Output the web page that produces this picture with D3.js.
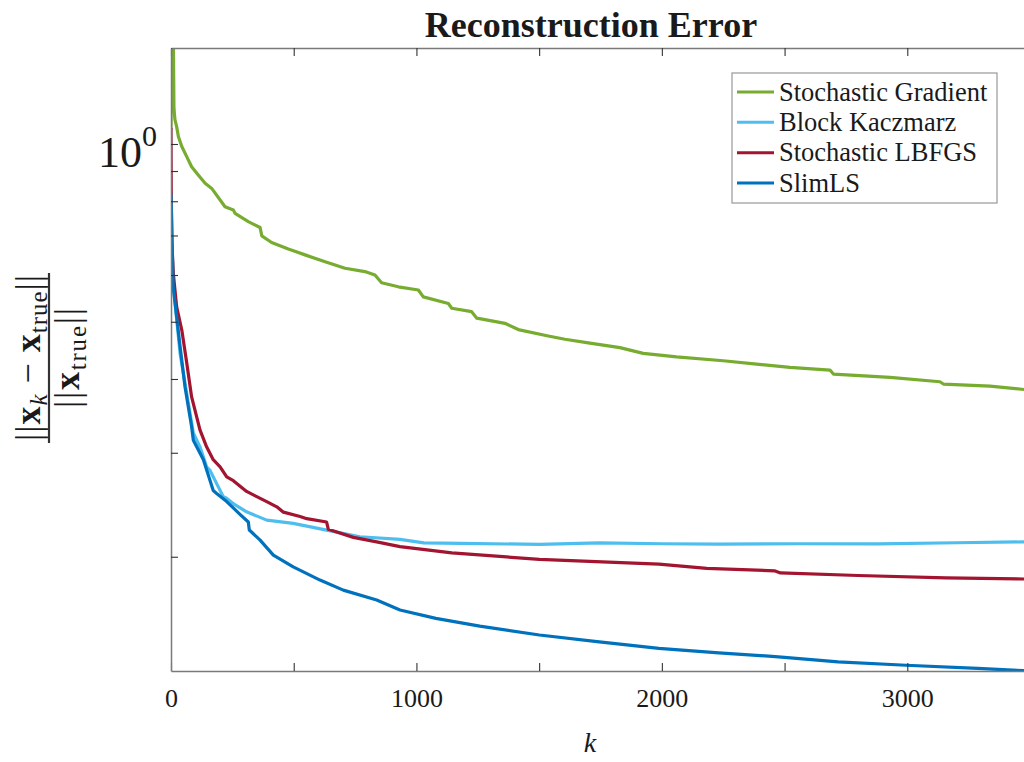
<!DOCTYPE html>
<html>
<head>
<meta charset="utf-8">
<script src="https://cdn.jsdelivr.net/npm/d3@7"></script>
<style>
  body { margin: 0; background: #fff; }
  svg { display: block; }
  text { font-family: "Liberation Serif", "Times New Roman", serif; fill: #1a1a1a; }
</style>
</head>
<body>
<svg id="chart" width="1024" height="762"></svg>
<script>
// Relative reconstruction error per iteration k for four solvers.
const seriesNames = ["Stochastic Gradient", "Block Kaczmarz", "Stochastic LBFGS", "SlimLS"];

const stochasticGradient = [
  [0, 1.06], [2, 1.5], [4, 1.22], [6, 1.6], [8, 1.3], [10, 1.45], [12, 1.15], [16, 1.10],
  [23, 1.07], [30, 1.03], [44, 0.99], [64, 0.952], [84, 0.915], [111, 0.886], [139, 0.858],
  [166, 0.841], [220, 0.783], [254, 0.773], [261, 0.763], [315, 0.739], [363, 0.722],
  [370, 0.699], [410, 0.681], [478, 0.664], [546, 0.649], [628, 0.632], [709, 0.616],
  [790, 0.608], [831, 0.600], [858, 0.582], [926, 0.573], [1008, 0.566], [1028, 0.551],
  [1130, 0.537], [1144, 0.527], [1225, 0.520], [1246, 0.507], [1361, 0.497], [1415, 0.485],
  [1537, 0.473], [1605, 0.467], [1707, 0.460], [1829, 0.452], [1924, 0.442], [2060, 0.436],
  [2250, 0.4295], [2386, 0.424], [2522, 0.4186], [2685, 0.4142], [2699, 0.4078],
  [2930, 0.4025], [3133, 0.3957], [3147, 0.3922], [3337, 0.3891], [3500, 0.383]
];

const blockKaczmarz = [
  [0, 0.826], [3, 0.612], [37, 0.442], [64, 0.378], [91, 0.324], [118, 0.307], [145, 0.284],
  [159, 0.280], [186, 0.266], [213, 0.2527], [225, 0.2515], [260, 0.245], [308, 0.2383],
  [390, 0.2307], [498, 0.2278], [634, 0.2219], [770, 0.2162], [933, 0.214], [1030, 0.2111],
  [1178, 0.2107], [1501, 0.2099], [1745, 0.2111], [2000, 0.2104], [2232, 0.2101],
  [2556, 0.2104], [2881, 0.2103], [3200, 0.2112], [3500, 0.212]
];

const stochasticLBFGS = [
  [0, 1.064], [1, 0.84], [3, 0.68], [10, 0.60], [23, 0.53], [44, 0.484], [64, 0.426],
  [84, 0.373], [118, 0.328], [145, 0.307], [172, 0.292], [200, 0.284], [227, 0.273],
  [254, 0.269], [308, 0.258], [390, 0.248], [431, 0.243], [458, 0.238], [526, 0.234],
  [553, 0.232], [634, 0.229], [641, 0.2226], [743, 0.2157], [838, 0.212], [933, 0.208],
  [1144, 0.2031], [1501, 0.1979], [1988, 0.1943], [2183, 0.1911], [2459, 0.1893],
  [2483, 0.1878], [2800, 0.1859], [3157, 0.1842], [3500, 0.1833]
];

const slimLS = [
  [0, 0.826], [9, 0.573], [37, 0.454], [57, 0.388], [84, 0.332], [91, 0.315], [132, 0.292],
  [172, 0.259], [186, 0.256], [227, 0.248], [281, 0.236], [315, 0.229], [319, 0.222],
  [363, 0.2134], [417, 0.2013], [498, 0.1923], [607, 0.1826], [702, 0.1756], [838, 0.1689],
  [933, 0.1625], [1079, 0.1573], [1258, 0.1526], [1501, 0.1474], [1745, 0.1435],
  [1988, 0.1399], [2232, 0.1375], [2475, 0.1354], [2718, 0.1327], [2995, 0.1310],
  [3287, 0.1294], [3500, 0.1281]
];

const xTicks = [0, 500, 1000, 1500, 2000, 2500, 3000, 3500];
const xTickLabels = ["0", "", "1000", "", "2000", "", "3000", ""];
const yTicks = [0.2, 0.3, 0.4, 0.5, 0.6, 0.7, 0.8, 0.9, 1];

const seriesData = [stochasticGradient, blockKaczmarz, stochasticLBFGS, slimLS];
const seriesColors = ["#77AC30", "#4DBEEE", "#A2142F", "#0072BD"];

const svg = d3.select("#chart");
const margin = { left: 171, top: 48, right: 1030, bottom: 671 };

const x = d3.scaleLinear().domain([0, 3500]).range([margin.left, margin.right]);
const y = d3.scaleLog().domain([0.1281, 1.454]).range([margin.bottom, margin.top]);

svg.append("rect").attr("width", 1024).attr("height", 762).attr("fill", "#fff");

svg.append("defs").append("clipPath").attr("id", "plot-clip")
  .append("rect")
  .attr("x", margin.left).attr("y", margin.top)
  .attr("width", margin.right - margin.left).attr("height", margin.bottom - margin.top);

// Data lines, in legend order so SlimLS is drawn on top
const line = d3.line().x(d => x(d[0])).y(d => y(d[1]));
const lines = svg.append("g").attr("clip-path", "url(#plot-clip)");
seriesData.forEach((data, i) => {
  lines.append("path")
    .datum(data)
    .attr("d", line)
    .attr("fill", "none")
    .attr("stroke", seriesColors[i])
    .attr("stroke-width", 3.2)
    .attr("stroke-linejoin", "round");
});

function styleAxis(g) {
  g.select(".domain").attr("stroke", "#7a7a7a").attr("stroke-width", 1.5);
  g.selectAll(".tick line").attr("stroke", "#333").attr("stroke-width", 1.1);
}

// Bottom axis with inward ticks
const xAxis = svg.append("g")
  .attr("transform", `translate(0,${margin.bottom})`)
  .call(d3.axisBottom(x).tickValues(xTicks)
    .tickFormat((d, i) => xTickLabels[i])
    .tickSizeInner(-8).tickSizeOuter(0).tickPadding(18))
  .call(styleAxis);
xAxis.selectAll(".tick text")
  .attr("font-size", 26)
  .attr("font-family", "Liberation Serif, serif")
  .attr("fill", "#1a1a1a");

// Top box edge
svg.append("g")
  .attr("transform", `translate(0,${margin.top})`)
  .call(d3.axisTop(x).tickValues(xTicks).tickFormat("")
    .tickSizeInner(-8).tickSizeOuter(0))
  .call(styleAxis);

// Left log axis with minor ticks
svg.append("g")
  .attr("transform", `translate(${margin.left},0)`)
  .call(d3.axisLeft(y).tickValues(yTicks).tickFormat("")
    .tickSizeInner(-7).tickSizeOuter(0))
  .call(styleAxis);

// 10^0 label
const yLab = svg.append("text")
  .attr("x", 157).attr("y", y(1) + 23)
  .attr("text-anchor", "end")
  .attr("font-size", 44);
yLab.append("tspan").text("10");
yLab.append("tspan").attr("font-size", 30).attr("dy", -21).text("0");

// Title
svg.append("text")
  .attr("x", 591).attr("y", 37)
  .attr("text-anchor", "middle")
  .attr("font-size", 36).attr("font-weight", "bold")
  .text("Reconstruction Error");

// x label
svg.append("text")
  .attr("x", 590).attr("y", 752)
  .attr("text-anchor", "middle")
  .attr("font-size", 28).attr("font-style", "italic")
  .text("k");

// y label: ||x_k - x_true|| / ||x_true||
const yl = svg.append("g").attr("transform", "translate(49,358) rotate(-90)");
yl.append("line")
  .attr("x1", -85).attr("x2", 85).attr("y1", 0).attr("y2", 0)
  .attr("stroke", "#333").attr("stroke-width", 2.2);

const num = yl.append("text")
  .attr("x", 0).attr("y", -9)
  .attr("text-anchor", "middle")
  .attr("font-size", 36)
  .attr("textLength", 166).attr("lengthAdjust", "spacing");
num.append("tspan").text("||");
num.append("tspan").attr("font-weight", "bold").text("x");
num.append("tspan").attr("font-style", "italic").attr("font-size", 25).attr("dy", 7).text("k");
num.append("tspan").attr("dy", -7).text(" \u2212 ");
num.append("tspan").attr("font-weight", "bold").text("x");
num.append("tspan").attr("font-size", 25).attr("dy", 7).text("true");
num.append("tspan").attr("dy", -7).text("||");

const den = yl.append("text")
  .attr("x", 0).attr("y", 30)
  .attr("text-anchor", "middle")
  .attr("font-size", 36)
  .attr("textLength", 100).attr("lengthAdjust", "spacing");
den.append("tspan").text("||");
den.append("tspan").attr("font-weight", "bold").text("x");
den.append("tspan").attr("font-size", 25).attr("dy", 7).text("true");
den.append("tspan").attr("dy", -7).text("||");

// Legend
const legend = svg.append("g");
legend.append("rect")
  .attr("x", 732).attr("y", 73).attr("width", 265).attr("height", 130)
  .attr("fill", "#fff").attr("stroke", "#a0a0a0").attr("stroke-width", 1.3);
const rowY = d3.scalePoint().domain(seriesNames).range([92, 183]);
seriesNames.forEach((name, i) => {
  const cy = rowY(name);
  legend.append("line")
    .attr("x1", 737).attr("x2", 774).attr("y1", cy).attr("y2", cy)
    .attr("stroke", seriesColors[i]).attr("stroke-width", 3);
  legend.append("text")
    .attr("x", 779).attr("y", cy + 8.5)
    .attr("font-size", 26.5)
    .text(name);
});
</script>
</body>
</html>
